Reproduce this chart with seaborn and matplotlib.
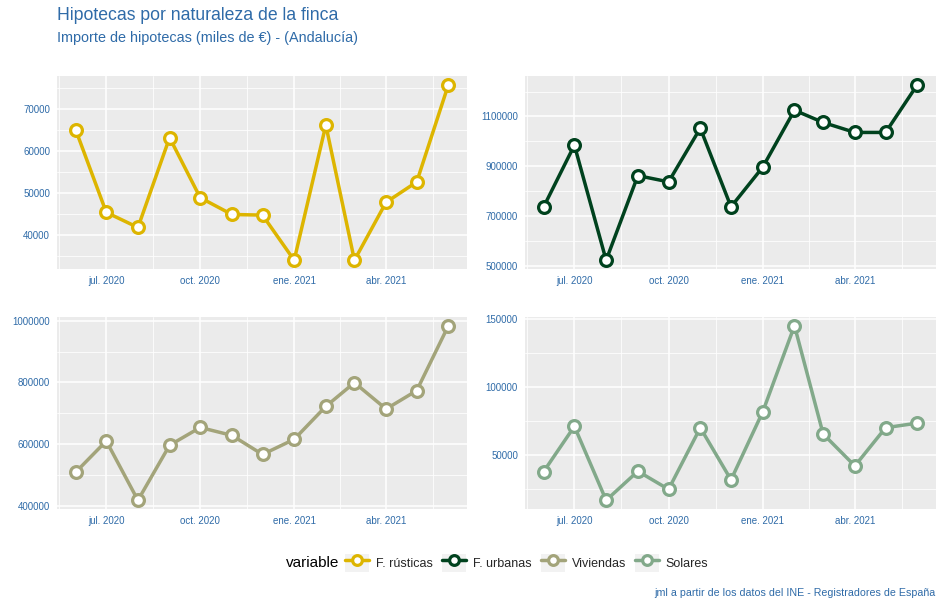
import numpy as np
import pandas as pd
import matplotlib
matplotlib.use("Agg")
import matplotlib.pyplot as plt
import matplotlib.dates as mdates
import seaborn as sns
from matplotlib.lines import Line2D
from matplotlib.patches import Rectangle
from matplotlib.legend_handler import HandlerLine2D

# datos (miles de euros), junio 2020 - junio 2021
fechas = pd.date_range("2020-06-01", periods=13, freq="MS")
rusticas = [65000, 45300, 41700, 63100, 48800, 44800, 44650, 33900, 66100, 33900, 47700, 52550, 75700]
urbanas = [738000, 985000, 524000, 863000, 838000, 1053000, 738000, 897000, 1125000, 1076000, 1036000, 1036000, 1227000]
viviendas = [508000, 609600, 417000, 595700, 653500, 627800, 565800, 615000, 722000, 799000, 713500, 773300, 984000]
solares = [37900, 71100, 16750, 38100, 24800, 70100, 31800, 81800, 145100, 65500, 42000, 70100, 73500]

variables = ["F. rústicas", "F. urbanas", "Viviendas", "Solares"]
colores = ["#DDB500", "#00421E", "#A3A47A", "#82A98A"]
y_ticks = [
    [40000, 50000, 60000, 70000],
    [500000, 700000, 900000, 1100000],
    [400000, 600000, 800000, 1000000],
    [50000, 100000, 150000],
]
x_ticks = pd.to_datetime(["2020-07-01", "2020-10-01", "2021-01-01", "2021-04-01"])
x_labels = ["jul. 2020", "oct. 2020", "ene. 2021", "abr. 2021"]

df = pd.DataFrame({"fecha": fechas, "F. rústicas": rusticas, "F. urbanas": urbanas,
                   "Viviendas": viviendas, "Solares": solares})
df = df.melt(id_vars="fecha", var_name="variable", value_name="valor")

sns.set_theme(style="darkgrid")
plt.rcParams["font.family"] = ["Liberation Sans", "DejaVu Sans"]
azul = "#2F6BA8"

fig = plt.figure(figsize=(9.44, 6.07), dpi=100)
pos = [
    [57 / 944, 1 - 269 / 607, 410 / 944, 193 / 607],
    [525 / 944, 1 - 269 / 607, 411 / 944, 193 / 607],
    [57 / 944, 1 - 509 / 607, 410 / 944, 192 / 607],
    [525 / 944, 1 - 509 / 607, 411 / 944, 192 / 607],
]

xnum = mdates.date2num(fechas)
rng = xnum[-1] - xnum[0]
xlim = (xnum[0] - 0.05 * rng, xnum[-1] + 0.05 * rng)
tnum = mdates.date2num(x_ticks)
step = tnum[1] - tnum[0]
x_minor = np.concatenate([[tnum[0] - step / 2], (tnum[:-1] + tnum[1:]) / 2, [tnum[-1] + step / 2]])

for i, var in enumerate(variables):
    ax = fig.add_axes(pos[i])
    sub = df[df["variable"] == var]
    sns.lineplot(data=sub, x="fecha", y="valor", color=colores[i], lw=2.5,
                 marker="o", markersize=8.5, markerfacecolor="white",
                 markeredgecolor=colores[i], markeredgewidth=2.3, ax=ax)
    ax.set_facecolor("#EBEBEB")
    for s in ax.spines.values():
        s.set_visible(False)
    yt = np.array(y_ticks[i])
    ax.set_yticks(yt)
    ax.set_yticklabels([str(t) for t in yt])
    d = yt[1] - yt[0]
    ax.set_yticks(np.concatenate([[yt[0] - d / 2], yt + d / 2]), minor=True)
    ax.set_xticks(tnum)
    ax.set_xticklabels(x_labels)
    ax.set_xticks(x_minor, minor=True)
    # limites al final (set_ticks los amplia)
    ax.set_xlim(xlim)
    v = sub["valor"].to_numpy()
    r = v.max() - v.min()
    ax.set_ylim(v.min() - 0.05 * r, v.max() + 0.05 * r)
    ax.grid(which="major", color="white", lw=1.1)
    ax.grid(which="minor", color="white", lw=0.55)
    ax.tick_params(which="major", length=3, width=1, color="#333333",
                   labelsize=7, labelcolor=azul, pad=2)
    ax.tick_params(which="minor", length=0)
    ax.set_xlabel("")
    ax.set_ylabel("")
    ax.set_axisbelow(True)

fig.text(57 / 944, 1 - 15 / 607, "Hipotecas por naturaleza de la finca",
         fontsize=12.7, color=azul, va="center", ha="left")
fig.text(57 / 944, 1 - 38 / 607, "Importe de hipotecas (miles de €) - (Andalucía)",
         fontsize=10.4, color=azul, va="center", ha="left")
fig.text(935 / 944, 1 - 593 / 607, "jml a partir de los datos del INE - Registradores de España",
         fontsize=7.7, color=azul, va="center", ha="right")


class KeyBox(HandlerLine2D):
    def create_artists(self, legend, orig_handle, xdescent, ydescent, width, height, fontsize, trans):
        bg = Rectangle((-xdescent, -ydescent), width, height, facecolor="#F2F2F2",
                       edgecolor="none", transform=trans)
        arts = super().create_artists(legend, orig_handle, xdescent, ydescent,
                                      width, height, fontsize, trans)
        return [bg] + list(arts)


handles = [Line2D([], [], color=c, lw=2.5, marker="o", markersize=7,
                  markerfacecolor="white", markeredgecolor=c, markeredgewidth=2.3)
           for c in colores]
fig.text(286 / 944, 1 - 563 / 607, "variable", fontsize=11, color="black",
         va="center", ha="left")
fig.legend(handles, variables, loc="center left", bbox_to_anchor=(345 / 944, 1 - 563 / 607),
           ncol=4, frameon=False, fontsize=9, handlelength=1.92, handleheight=1.92,
           handletextpad=0.56, columnspacing=0.72, borderpad=0, borderaxespad=0,
           handler_map={Line2D: KeyBox()})

fig.savefig("out.png", dpi=100)
